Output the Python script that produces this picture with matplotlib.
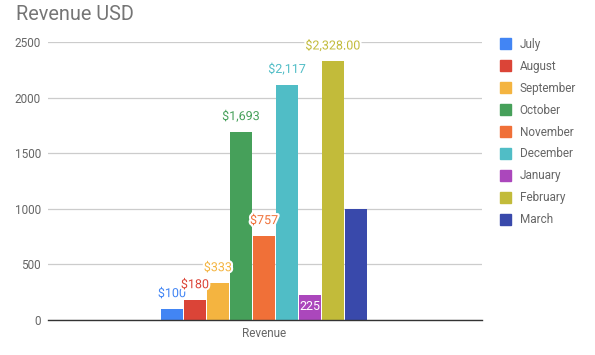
import matplotlib.pyplot as plt
import matplotlib.patheffects as pe
import numpy as np

plt.rcParams['font.family'] = ['Roboto', 'DejaVu Sans']

# data
months = ['July', 'August', 'September', 'October', 'November',
          'December', 'January', 'February', 'March']
revenue = [100, 180, 333, 1693, 757, 2117, 225, 2328, 1000]
labels = ['$100', '$180', '$333', '$1,693', '$757', '$2,117', '225', '$2,328.00', None]
colors = ['#4285f4', '#db4437', '#f4b440', '#46a05a', '#f07038',
          '#50bdc6', '#ab47bc', '#c2bb3a', '#3949ab']
category = 'Revenue'
yticks = [0, 500, 1000, 1500, 2000, 2500]

fig = plt.figure(figsize=(5.95, 3.55), dpi=100)
ax = fig.add_axes([48/595, 1 - 320/355, 434/595, 278/355])

n = len(months)
xs = np.arange(n) - (n - 1) / 2
ax.bar(xs, revenue, width=22/23, color=colors, zorder=3)
handles = [plt.Rectangle((0, 0), 1, 1, color=c) for c in colors]

# value labels (Jan label sits inside its bar in white)
for x, v, lab, c in zip(xs, revenue, labels, colors):
    if lab is None:
        continue
    if lab == '225':
        ax.annotate(lab, (x, v), xytext=(0, -8.5), textcoords='offset points',
                    ha='center', va='center', fontsize=9, color='white', zorder=5)
    else:
        ax.annotate(lab, (x, v), xytext=(0, 11), textcoords='offset points',
                    ha='center', va='center', fontsize=9, color=c, zorder=5,
                    path_effects=[pe.withStroke(linewidth=3, foreground='white')])

ax.set_xlim(-216/23, 218/23)
ax.set_ylim(0, 2500)
ax.set_yticks(yticks)
ax.set_xticks([0])
ax.set_xticklabels([category])
ax.tick_params(axis='both', length=0, labelsize=8.5, labelcolor='#666666', pad=5)
ax.grid(axis='y', color='#cccccc', linewidth=0.9, zorder=0)
for s in ['top', 'right', 'left']:
    ax.spines[s].set_visible(False)
ax.spines['bottom'].set_color('#333333')
ax.spines['bottom'].set_linewidth(1.0)
ax.spines['bottom'].set_zorder(4)

fig.text(16/595, 1 - 15/355, 'Revenue USD', fontsize=14.3, color='#757575',
         ha='left', va='center')

fig.legend(handles, months, loc='upper left', bbox_to_anchor=(489/595, 1 - 27/355),
           frameon=False, fontsize=8.5, handlelength=1.0, handleheight=1.0,
           handletextpad=0.7, labelspacing=0.76, labelcolor='#666666')

fig.savefig('out.png', dpi=100)
